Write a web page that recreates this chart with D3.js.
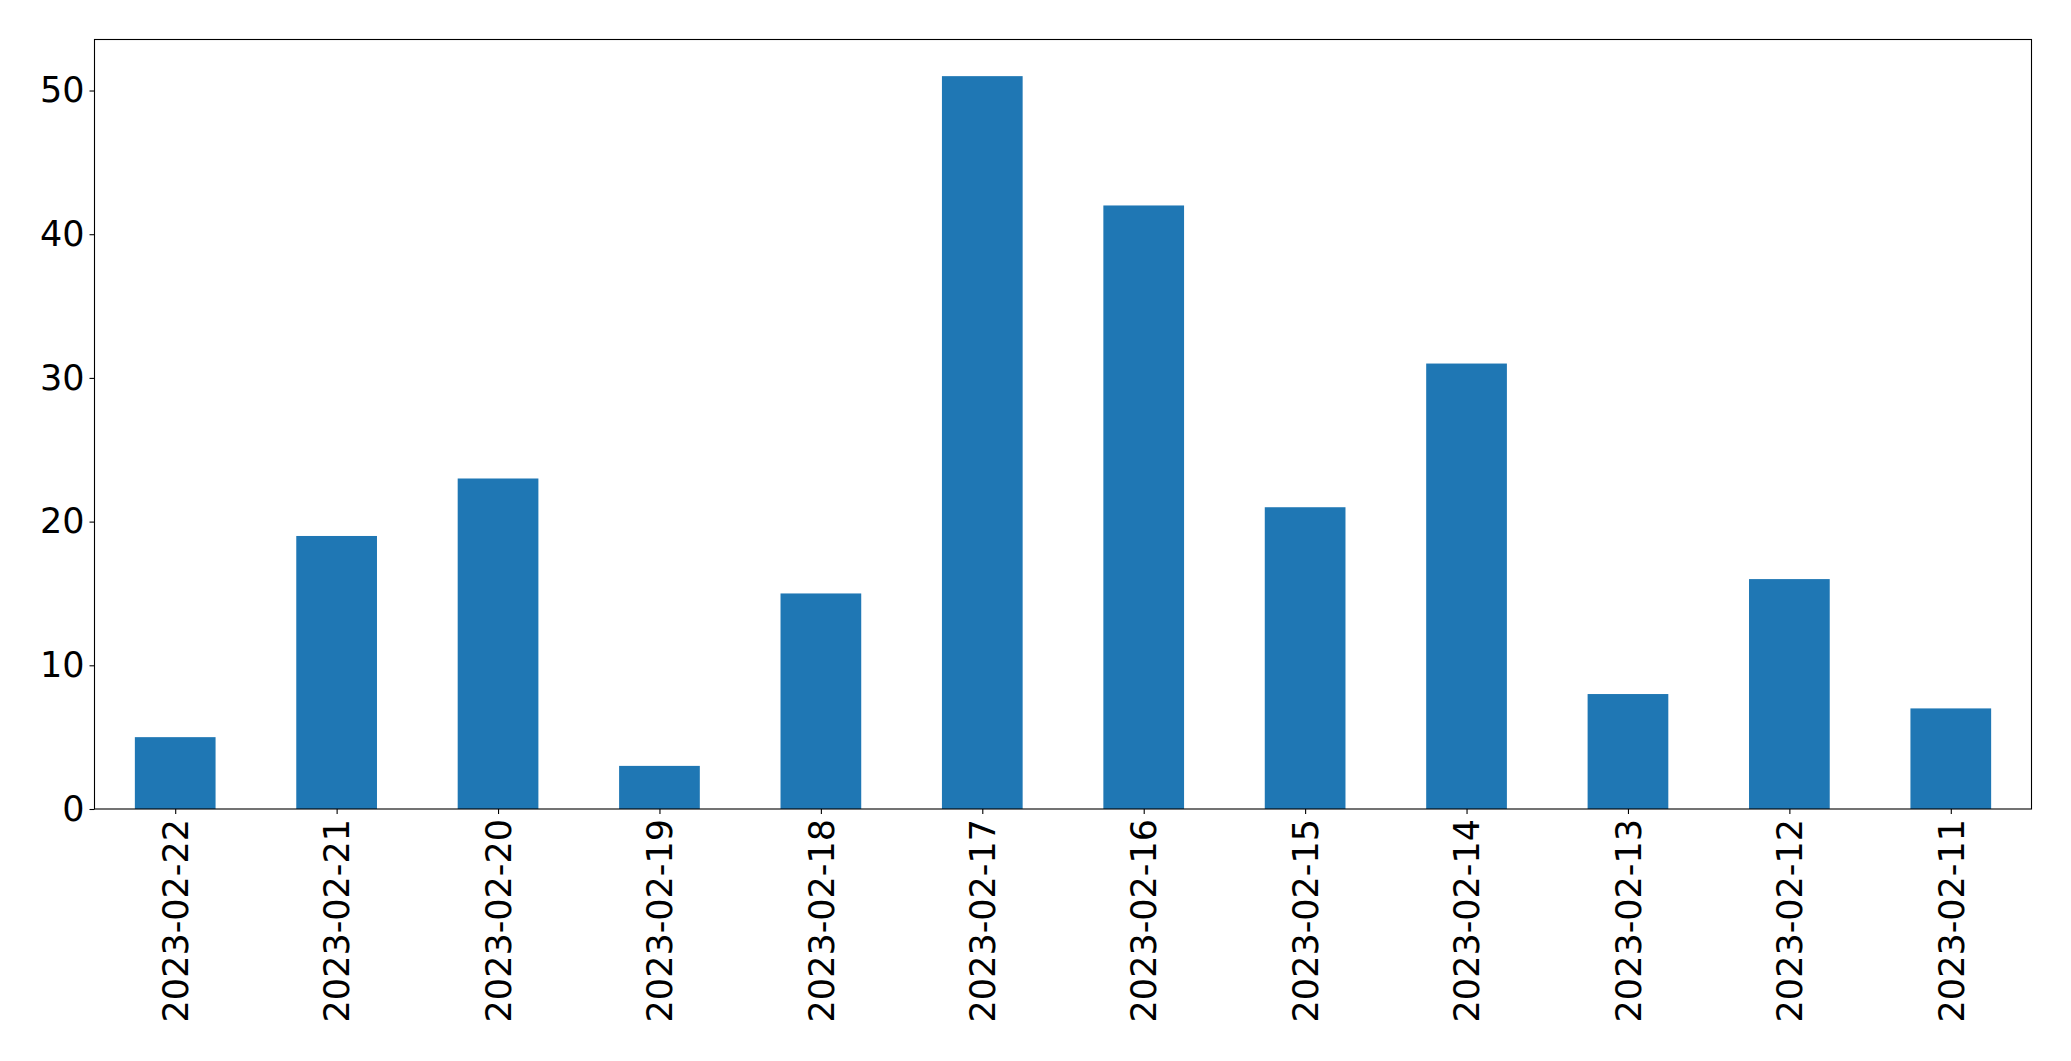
<!DOCTYPE html>
<html>
<head>
<meta charset="utf-8">
<script src="https://cdn.jsdelivr.net/npm/d3@7"></script>
<style>
  html, body { margin: 0; padding: 0; background: #fff; }
  svg { display: block; }
  text { font-family: "DejaVu Sans", sans-serif; fill: #000; }
</style>
</head>
<body>
<svg id="chart" width="2071" height="1061"></svg>
<script>
const categories = ["2023-02-22","2023-02-21","2023-02-20","2023-02-19","2023-02-18","2023-02-17","2023-02-16","2023-02-15","2023-02-14","2023-02-13","2023-02-12","2023-02-11"];
const values = [5, 19, 23, 3, 15, 51, 42, 21, 31, 8, 16, 7];
const yTicks = [0, 10, 20, 30, 40, 50];

const W = 2071, H = 1061;
const m = {left: 94.5, right: 2031.5, top: 39.5, bottom: 809};
const svg = d3.select("#chart");

const x = d3.scaleLinear().domain([-0.5, categories.length - 0.5]).range([m.left, m.right]);
const yMax = d3.max(values) * 1.05;
const y = d3.scaleLinear().domain([0, yMax]).range([m.bottom, m.top]);

svg.append("g").selectAll("rect").data(values).enter().append("rect")
  .attr("x", (d, i) => x(i - 0.25))
  .attr("width", (d, i) => x(i + 0.25) - x(i - 0.25))
  .attr("y", d => y(d))
  .attr("height", d => y(0) - y(d))
  .attr("fill", "#1f77b4");

const fs = 35;
const yAxis = d3.axisLeft(y).tickValues(yTicks).tickSize(5).tickPadding(5).tickFormat(d3.format("d"));
const gy = svg.append("g").attr("transform", `translate(${m.left},0)`).call(yAxis);
gy.select(".domain").remove();
gy.selectAll("line").attr("stroke", "#000").attr("stroke-width", 1.1);
gy.selectAll("text").style("font-size", fs + "px").style("font-family", "DejaVu Sans");

const xAxis = d3.axisBottom(x).tickValues(d3.range(categories.length)).tickSize(5).tickFormat(i => categories[i]);
const gx = svg.append("g").attr("transform", `translate(0,${m.bottom})`).call(xAxis);
gx.select(".domain").remove();
gx.selectAll("line").attr("stroke", "#000").attr("stroke-width", 1.1);
gx.selectAll("text")
  .style("font-size", fs + "px").style("font-family", "DejaVu Sans")
  .attr("transform", "rotate(-90)")
  .attr("text-anchor", "end")
  .attr("x", -10)
  .attr("y", 0)
  .attr("dy", "0.35em");

svg.append("rect")
  .attr("x", m.left).attr("y", m.top)
  .attr("width", m.right - m.left).attr("height", m.bottom - m.top)
  .attr("fill", "none").attr("stroke", "#000").attr("stroke-width", 1.1);
</script>
</body>
</html>
